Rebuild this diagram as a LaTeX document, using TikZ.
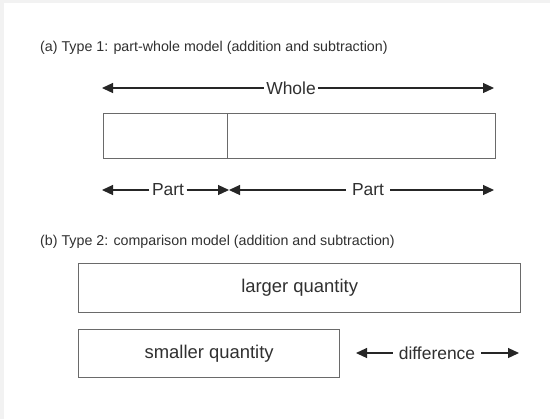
\documentclass[tikz,border=0pt]{standalone}
\usepackage{fontspec}
\setmainfont{Liberation Sans}
\usetikzlibrary{arrows.meta}
\definecolor{framegray}{HTML}{F2F2F2}
\definecolor{boxgray}{HTML}{6A6A6A}
\definecolor{txtgray}{HTML}{303030}
\begin{document}
\begin{tikzpicture}[x=1bp,y=-1bp,
  titletxt/.style={font=\fontsize{14.3}{16}\selectfont, text=txtgray, anchor=west, inner sep=0pt},
  lbl/.style={font=\fontsize{17.5}{19}\selectfont, text=txtgray, inner sep=2.5bp},
  boxlbl/.style={font=\fontsize{18.5}{20}\selectfont, text=txtgray},
  barbox/.style={draw=boxgray, line width=1.3bp},
  arr/.style={draw=black!85, line width=1.2bp, -{Triangle[length=11bp,width=10bp]}}
]
\useasboundingbox (0,0) rectangle (550,419);
\fill[framegray] (0,0) rectangle (550,419);
\fill[white] (4,3) rectangle (550,419);

% (a)
\node[titletxt] (ta) at (40,48) {(a) Type 1: part-whole model (addition and subtraction)};
\coordinate (wL) at (102,88);
\coordinate (wR) at (494,88);
\node[lbl] (whole) at (291,88) {Whole};
\draw[arr] (whole) -- (wL);
\draw[arr] (whole) -- (wR);

\node[barbox, minimum width=124bp, minimum height=45bp, anchor=north west] (p1) at (103,113) {};
\node[barbox, minimum width=268bp, minimum height=45bp, anchor=north west] (p2) at (227,113) {};

\coordinate (aL) at (102,190);
\coordinate (aM1) at (229,190);
\coordinate (aM2) at (229,190);
\coordinate (aR) at (494,190);
\node[lbl] (part1) at (168,190) {Part};
\node[lbl, inner xsep=6bp] (part2) at (368,190) {Part};
\draw[arr] (part1) -- (aL);
\draw[arr] (part1) -- (aM1);
\draw[arr] (part2) -- (aM2);
\draw[arr] (part2) -- (aR);

% (b)
\node[titletxt] (tb) at (40,242) {(b) Type 2: comparison model (addition and subtraction)};
\node[barbox, minimum width=442bp, minimum height=49bp, anchor=north west] (large) at (78,263) {};
\node[boxlbl] at (large.center) {larger quantity};
\node[barbox, minimum width=261bp, minimum height=48bp, anchor=north west] (small) at (78,329) {};
\node[boxlbl] at (small.center) {smaller quantity};

\coordinate (dL) at (356,353);
\coordinate (dR) at (519,353);
\node[lbl, inner xsep=6bp] (diff) at (437,353) {difference};
\draw[arr] (diff) -- (dL);
\draw[arr] (diff) -- (dR);
\end{tikzpicture}
\end{document}
